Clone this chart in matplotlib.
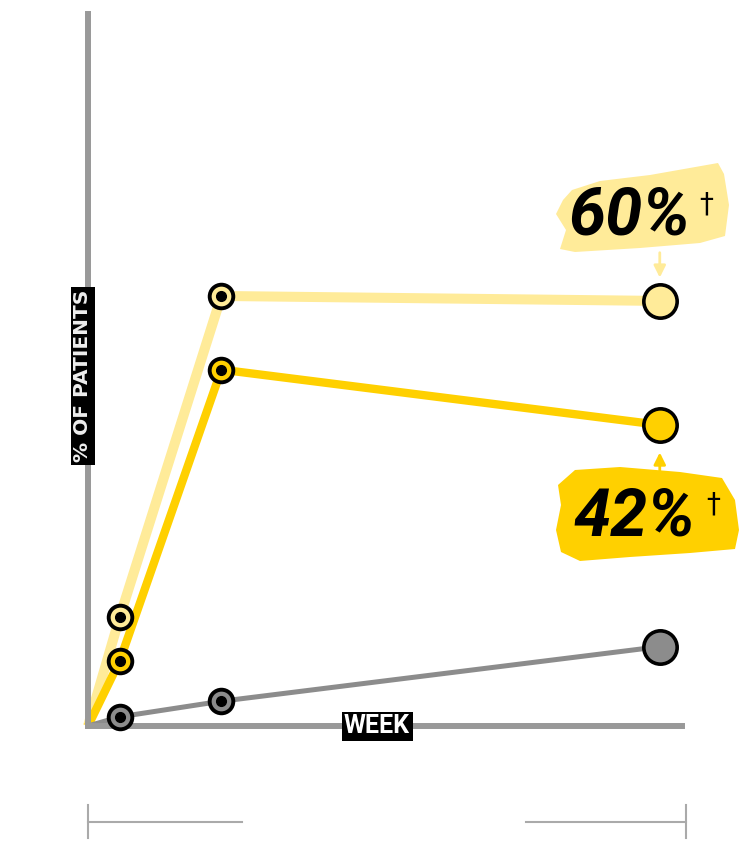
import matplotlib
matplotlib.use("Agg")
import matplotlib.pyplot as plt
from matplotlib.patches import Polygon
from matplotlib.transforms import Affine2D

# weeks (no tick labels shown)
weeks = [0, 1, 4.2, 18]
light_pct = [0, 15.4, 60.7, 60]
dark_pct = [0, 9.2, 50.3, 42.5]
gray_pct = [0, 1.3, 3.5, 11.2]

LIGHT = '#FFEB99'
DARK = '#FFD000'
GRAY = '#8C8C8C'
AXIS = '#999999'
CALLOUT_FONT = ['Roboto', 'DejaVu Sans']

# rough brush-stroke outlines behind the callouts (image pixels, y down)
brush_60 = [(572, 190), (600, 181), (650, 175), (718, 163), (724, 174), (729, 205),
            (725, 236), (700, 243), (640, 248), (575, 252), (560, 249), (566, 230),
            (556, 214), (563, 200)]
brush_42 = [(575, 470), (620, 467), (680, 472), (722, 478), (735, 500), (739, 530),
            (735, 549), (690, 553), (630, 557), (580, 561), (561, 552), (556, 530),
            (561, 505), (558, 485)]

W, H = 746, 844
fig = plt.figure(figsize=(W / 100, H / 100), dpi=100)
ax = fig.add_axes([88 / W, (H - 726) / H, (682 - 88) / W, (726 - 14) / H])
px = Affine2D().scale(1 / W, -1 / H).translate(0, 1) + fig.transFigure

ax.set_xlim(0, 18.7)
ax.set_ylim(0, 100.5)
ax.set_xticks([])
ax.set_yticks([])
for s in ['top', 'right']:
    ax.spines[s].set_visible(False)
for s in ['left', 'bottom']:
    ax.spines[s].set_color(AXIS)
    ax.spines[s].set_linewidth(4.3)

series = [(light_pct, LIGHT, 7.2), (dark_pct, DARK, 6.0), (gray_pct, GRAY, 3.6)]
for vals, col, lw in series:
    ax.plot(weeks, vals, color=col, lw=lw, solid_capstyle='butt',
            solid_joinstyle='round', zorder=2, clip_on=False)

for vals, col, lw in series:
    # small ringed markers at the two early visits
    ax.plot(weeks[1:3], vals[1:3], 'o', ms=17, mfc=col, mec='black', mew=2.8,
            zorder=4, clip_on=False)
    ax.plot(weeks[1:3], vals[1:3], 'o', ms=7, mfc='black', mec='black',
            zorder=5, clip_on=False)
    # large end marker
    ax.plot(weeks[3], vals[3], 'o', ms=24, mfc=col, mec='black', mew=2.6,
            zorder=4, clip_on=False)

# axis labels as black tags
ax.text(-0.17, 49.4, '% OF PATIENTS', rotation=90, ha='center', va='center',
        color='#EEEEEE', fontsize=14.5, fontweight='heavy',
        bbox=dict(boxstyle='square,pad=0.12', fc='black', ec='none'), zorder=6,
        clip_on=False)
ax.text(9.1, 0, 'WEEK', ha='center', va='center', color='white',
        fontsize=18, fontweight='bold', family=CALLOUT_FONT,
        bbox=dict(boxstyle='square,pad=0.1', fc='black', ec='none'), zorder=6,
        clip_on=False)

# callouts on brush-like patches
ax.add_patch(Polygon(brush_60, closed=True, fc=LIGHT, ec='none',
                     transform=px, zorder=1, clip_on=False))
ax.add_patch(Polygon(brush_42, closed=True, fc=DARK, ec='none',
                     transform=px, zorder=1, clip_on=False))

ax.text(17.05, 72.0, '60%', ha='center', va='center', fontsize=48,
        fontweight='bold', fontstyle='italic', family=CALLOUT_FONT,
        color='black', zorder=3, clip_on=False)
ax.text(19.45, 73.6, '†', ha='center', va='center', fontsize=20,
        color='black', zorder=3, clip_on=False)
ax.annotate('', xy=(weeks[3], 62.9), xytext=(weeks[3], 67.2),
            arrowprops=dict(arrowstyle='-|>,head_length=0.7,head_width=0.35',
                            color=LIGHT, lw=2), zorder=2)

ax.text(17.2, 29.4, '42%', ha='center', va='center', fontsize=48,
        fontweight='bold', fontstyle='italic', family=CALLOUT_FONT,
        color='black', zorder=3, clip_on=False)
ax.text(19.67, 31.2, '†', ha='center', va='center', fontsize=20,
        color='black', zorder=3, clip_on=False)
ax.annotate('', xy=(weeks[3], 39.0), xytext=(weeks[3], 35.3),
            arrowprops=dict(arrowstyle='-|>,head_length=0.7,head_width=0.35',
                            color=DARK, lw=2), zorder=2)

# range bracket below the axis
tr = ax.get_xaxis_transform()
by, bt, bb = -0.135, -0.111, -0.157
ax.plot([0, 4.85], [by, by], color='#AAAAAA', lw=1.5, transform=tr, clip_on=False)
ax.plot([13.8, 18.83], [by, by], color='#AAAAAA', lw=1.5, transform=tr, clip_on=False)
ax.plot([0, 0], [bt, bb], color='#AAAAAA', lw=1.5, transform=tr, clip_on=False)
ax.plot([18.83, 18.83], [bt, bb], color='#AAAAAA', lw=1.5, transform=tr, clip_on=False)

fig.savefig('out.png', dpi=100)
